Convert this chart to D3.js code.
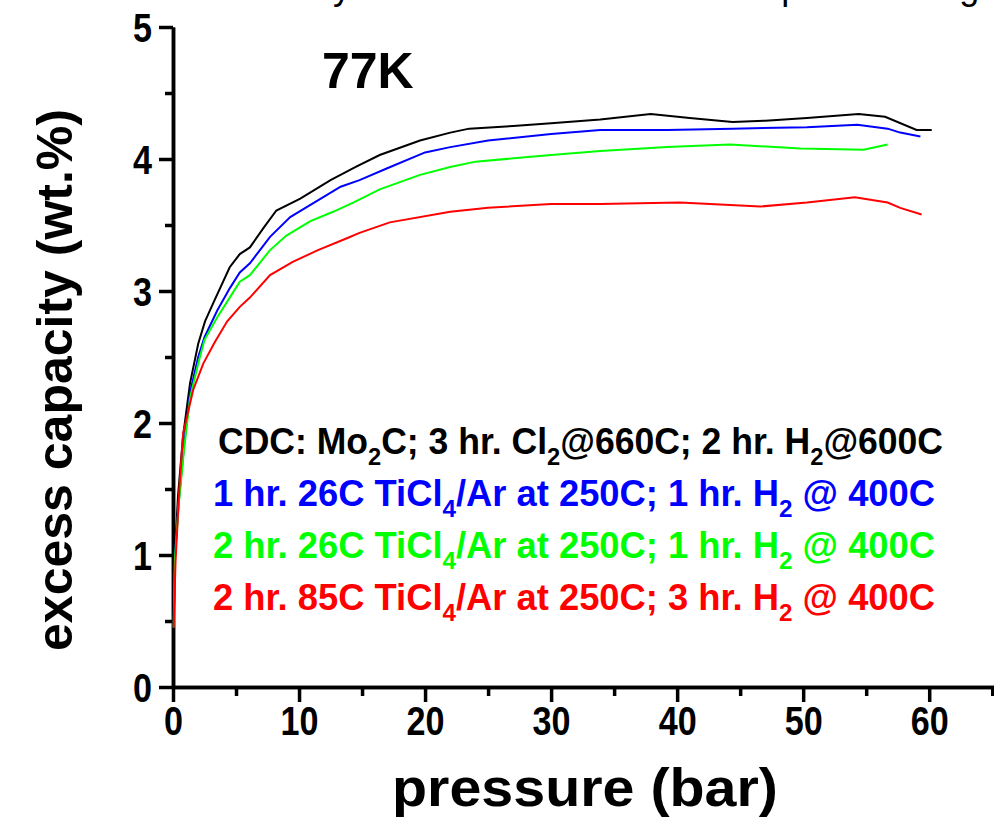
<!DOCTYPE html>
<html>
<head>
<meta charset="utf-8">
<script src="https://cdn.jsdelivr.net/npm/d3@7"></script>
<style>
  body { margin: 0; background: #fff; }
  svg { display: block; font-family: "Liberation Sans", Arial, sans-serif; }
</style>
</head>
<body>
<div class="charts-container"></div>
<script>
"use strict";

// Isotherms: pressure (bar) and excess capacity (wt.%)
const cdcPressure = [0.05, 0.15, 0.4, 0.8, 1.35, 2.0, 2.54, 3.2, 4.5, 5.3, 6.1, 7.2, 8.2, 10.1, 12.5, 14.5, 16.4, 19.6, 22, 23.5, 27, 30, 33.9, 37.9, 41, 44.4, 47, 50.3, 54.4, 56.5, 59, 60.2];
const cdcCapacity = [0.45, 1.0, 1.45, 1.9, 2.30, 2.6, 2.77, 2.91, 3.18, 3.28, 3.33, 3.48, 3.61, 3.70, 3.84, 3.94, 4.03, 4.14, 4.20, 4.23, 4.25, 4.27, 4.30, 4.34, 4.31, 4.28, 4.29, 4.31, 4.34, 4.32, 4.22, 4.22];

const ti1Pressure = [0.05, 0.15, 0.45, 0.9, 1.35, 2.0, 2.5, 3.5, 4.5, 5.3, 6.1, 7.7, 9.3, 11.2, 13.3, 14.8, 17, 20, 22, 25, 30, 33.9, 39.2, 44.4, 50.3, 54.3, 56.7, 57.7, 59.3];
const ti1Capacity = [0.45, 0.98, 1.4, 1.85, 2.23, 2.5, 2.65, 2.85, 3.02, 3.14, 3.21, 3.41, 3.56, 3.67, 3.79, 3.84, 3.93, 4.05, 4.09, 4.14, 4.19, 4.22, 4.22, 4.23, 4.24, 4.26, 4.23, 4.20, 4.17];

const ti2Pressure = [0.05, 0.15, 0.45, 0.9, 1.35, 2.0, 2.5, 3.5, 4.5, 5.3, 6.1, 7.7, 9.0, 10.9, 12.7, 14.3, 16.4, 19.6, 22, 24, 30, 33.9, 39.2, 44.2, 49.8, 54.8, 56.7];
const ti2Capacity = [0.45, 0.97, 1.38, 1.82, 2.19, 2.45, 2.63, 2.80, 2.95, 3.07, 3.12, 3.31, 3.42, 3.53, 3.60, 3.67, 3.77, 3.88, 3.94, 3.98, 4.03, 4.06, 4.09, 4.11, 4.08, 4.07, 4.11];

const ti3Pressure = [0.05, 0.2, 0.5, 0.8, 1.6, 2.4, 3.3, 4.3, 5.3, 6.1, 7.7, 9.5, 11.5, 13.8, 14.8, 17.2, 22, 25, 30, 33.9, 40.2, 46.6, 50.3, 54.1, 56.7, 57.7, 59.4];
const ti3Capacity = [0.45, 0.95, 1.5, 1.92, 2.25, 2.45, 2.61, 2.77, 2.88, 2.95, 3.12, 3.22, 3.31, 3.40, 3.44, 3.52, 3.60, 3.63, 3.66, 3.66, 3.67, 3.64, 3.67, 3.71, 3.67, 3.63, 3.58];

// Legend lines; parts with sub: true are subscripts
const legendLines = [
  [{ t: "CDC: Mo" }, { t: "2", sub: true }, { t: "C; 3 hr. Cl" }, { t: "2", sub: true }, { t: "@660C; 2 hr. H" }, { t: "2", sub: true }, { t: "@600C" }],
  [{ t: "1 hr. 26C TiCl" }, { t: "4", sub: true }, { t: "/Ar at 250C; 1 hr. H" }, { t: "2", sub: true }, { t: " @ 400C" }],
  [{ t: "2 hr. 26C TiCl" }, { t: "4", sub: true }, { t: "/Ar at 250C; 1 hr. H" }, { t: "2", sub: true }, { t: " @ 400C" }],
  [{ t: "2 hr. 85C TiCl" }, { t: "4", sub: true }, { t: "/Ar at 250C; 3 hr. H" }, { t: "2", sub: true }, { t: " @ 400C" }]
];
const seriesColors = ["#000000", "#0000ff", "#00ff00", "#ff0000"];

const xTickValues = [0, 10, 20, 30, 40, 50, 60];
const yTickValues = [0, 1, 2, 3, 4, 5];

const series = [
  { pressure: cdcPressure, capacity: cdcCapacity },
  { pressure: ti1Pressure, capacity: ti1Capacity },
  { pressure: ti2Pressure, capacity: ti2Capacity },
  { pressure: ti3Pressure, capacity: ti3Capacity }
].map((s, i) => ({
  color: seriesColors[i],
  values: s.pressure.map((p, j) => ({ p, v: s.capacity[j] }))
}));

drawChart();

function drawChart() {
  const width = 994;
  const height = 817;

  const svg = d3.select(".charts-container")
    .append("svg")
      .attr("width", width)
      .attr("height", height);

  const xScale = d3.scaleLinear()
    .domain([0, 65.3])
    .range([173, 996]);

  const yScale = d3.scaleLinear()
    .domain([0, 5])
    .range([687, 27]);

  // Title of the original slide, mostly cut off by the top edge
  const title = svg.append("text")
    .attr("y", -1)
    .attr("font-size", 36)
    .text("Study of TiCl4 treatment on H2 uptake during cycling");
  const titleNode = title.node();
  const toY = titleNode.getSubStringLength(0, 4) + titleNode.getSubStringLength(4, 1) / 2;
  title.attr("x", 342 - toY);

  // Minor ticks first, majors with labels on top
  svg.append("g")
      .attr("class", "axis-x-minor")
      .attr("transform", `translate(0, ${yScale(0)})`)
      .call(d3.axisBottom(xScale).tickValues(d3.range(5, 66, 10)).tickSize(9).tickSizeOuter(0).tickFormat(""));

  svg.append("g")
      .attr("class", "axis-y-minor")
      .attr("transform", `translate(${xScale(0)}, 0)`)
      .call(d3.axisLeft(yScale).tickValues(d3.range(0.5, 5, 1)).tickSize(8).tickSizeOuter(0).tickFormat(""));

  const xAxis = d3.axisBottom(xScale)
    .tickValues(xTickValues)
    .tickFormat(d3.format("d"))
    .tickSize(15)
    .tickSizeOuter(0)
    .tickPadding(5);

  const yAxis = d3.axisLeft(yScale)
    .tickValues(yTickValues)
    .tickFormat(d3.format("d"))
    .tickSize(14)
    .tickSizeOuter(0)
    .tickPadding(7);

  svg.append("g")
      .attr("class", "axis-x")
      .attr("transform", `translate(0, ${yScale(0)})`)
      .call(xAxis);

  svg.append("g")
      .attr("class", "axis-y")
      .attr("transform", `translate(${xScale(0)}, 0)`)
      .call(yAxis);

  svg.selectAll(".axis-x path, .axis-y path, .axis-x-minor path, .axis-y-minor path")
      .attr("stroke", "#000")
      .attr("stroke-width", 3.5);
  svg.selectAll(".tick line")
      .attr("stroke", "#000")
      .attr("stroke-width", 3.5);
  // Tick numbers are tall and a little narrow in the original
  svg.selectAll(".axis-x text, .axis-y text")
      .attr("font-family", "Liberation Sans, Arial, sans-serif")
      .attr("font-size", 40)
      .attr("font-weight", "bold")
      .attr("fill", "#000")
      .attr("textLength", function() { return this.textContent.length * 19; })
      .attr("lengthAdjust", "spacingAndGlyphs");
  svg.selectAll(".axis-y text").attr("dy", "0.36em");

  // Isotherm lines
  const lineGenerator = d3.line()
    .x(d => xScale(d.p))
    .y(d => yScale(d.v));

  svg.append("g")
    .selectAll("path")
    .data(series)
    .join("path")
      .attr("d", d => lineGenerator(d.values))
      .attr("fill", "none")
      .attr("stroke", d => d.color)
      .attr("stroke-width", 2);

  // Temperature label
  svg.append("text")
      .attr("x", 322)
      .attr("y", 88)
      .attr("font-size", 50)
      .attr("font-weight", "bold")
      .text("77K");

  // Legend text, squeezed to the width it has in the figure
  const legendX = [218, 213, 213, 213];
  const legendW = [725, 722, 722, 722];
  legendLines.forEach((parts, i) => {
    const text = svg.append("text")
        .attr("x", legendX[i])
        .attr("y", 454 + i * 52)
        .attr("font-size", 36)
        .attr("font-weight", "bold")
        .attr("fill", seriesColors[i])
        .attr("textLength", legendW[i])
        .attr("lengthAdjust", "spacingAndGlyphs");
    parts.forEach((part, j) => {
      const prev = j > 0 && parts[j - 1].sub;
      text.append("tspan")
          .attr("font-size", part.sub ? 24 : 36)
          .attr("dy", part.sub ? 11 : (prev ? -11 : 0))
          .text(part.t);
    });
  });

  // Axis titles
  svg.append("text")
      .attr("x", 585)
      .attr("y", 806)
      .attr("text-anchor", "middle")
      .attr("font-size", 54)
      .attr("font-weight", "bold")
      .attr("textLength", 386)
      .attr("lengthAdjust", "spacingAndGlyphs")
      .text("pressure (bar)");

  svg.append("text")
      .attr("transform", "translate(72, 380) rotate(-90)")
      .attr("text-anchor", "middle")
      .attr("font-size", 50)
      .attr("font-weight", "bold")
      .text("excess capacity (wt.%)");
}
</script>
</body>
</html>
